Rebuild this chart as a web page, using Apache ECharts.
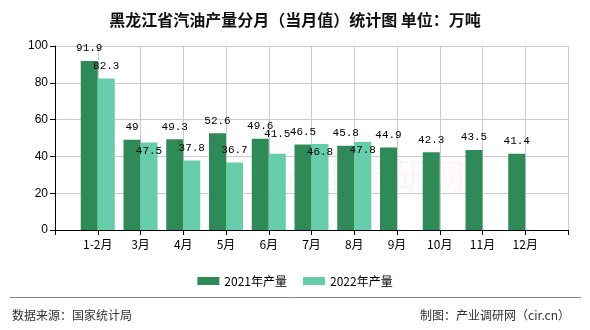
<!DOCTYPE html>
<html>
<head>
<meta charset="utf-8">
<script src="https://cdn.jsdelivr.net/npm/echarts@6/dist/echarts.min.js"></script>
<style>html,body{margin:0;padding:0;background:#fff;}#c{width:590px;height:330px;}</style>
</head>
<body>
<div id="c"></div>
<script>
var categories = ['1-2月','3月','4月','5月','6月','7月','8月','9月','10月','11月','12月'];
var values2021 = [91.9, 49, 49.3, 52.6, 49.6, 46.5, 45.8, 44.9, 42.3, 43.5, 41.4];
var values2022 = [82.3, 47.5, 37.8, 36.7, 41.5, 46.8, 47.8];
var yTicks = [0, 20, 40, 60, 80, 100];
// label vertical nudges (style only) for 2022 labels
var label2022Dy = [0, 21, 0, 0, -7, 21, 21];

var cats = [''].concat(categories).concat(['']);
function pad(arr, n) {
  var out = [null];
  for (var i = 0; i < n; i++) out.push(i < arr.length ? arr[i] : null);
  out.push(null);
  return out;
}
var d1 = pad(values2021, categories.length);
var d2raw = pad(values2022, categories.length);
var d2 = d2raw.map(function (v, i) {
  if (v === null) return null;
  return { value: v, label: { offset: [0, label2022Dy[i - 1] || 0] } };
});

var labelFont = { show: true, position: 'top', distance: 7, color: '#000', fontSize: 11, fontFamily: 'Liberation Mono' };
var chart = echarts.init(document.getElementById('c'), null, { renderer: 'canvas' });
chart.setOption({
  animation: false,
  backgroundColor: '#fff',
  title: {
    text: '黑龙江省汽油产量分月（当月值）统计图 单位：万吨',
    left: 'center', top: 7,
    textStyle: { fontSize: 16, fontWeight: 'bold', color: '#111', fontFamily: 'Noto Sans CJK SC' }
  },
  legend: {
    data: ['2021年产量', '2022年产量'],
    left: 'center', top: 270,
    icon: 'rect', itemWidth: 22, itemHeight: 8, itemGap: 16,
    textStyle: { fontSize: 12, color: '#000', fontFamily: 'Noto Sans CJK SC' }
  },
  grid: { left: 55, right: 22, top: 46, bottom: 100, containLabel: false },
  xAxis: {
    type: 'category', data: cats, boundaryGap: false,
    axisLine: { lineStyle: { color: '#000', width: 1 } },
    axisTick: { show: true, length: 5, interval: 0, lineStyle: { color: '#000' } },
    axisLabel: { interval: 0, margin: 8, color: '#000', fontSize: 12, fontFamily: 'Noto Sans CJK SC' },
    splitLine: { show: true, interval: 0, lineStyle: { color: '#ccc', width: 1 } }
  },
  yAxis: {
    type: 'value', min: yTicks[0], max: yTicks[yTicks.length - 1], interval: 20,
    axisLine: { show: true, lineStyle: { color: '#000', width: 1 } },
    axisTick: { show: true, length: 5, lineStyle: { color: '#000' } },
    axisLabel: { margin: 7, color: '#000', fontSize: 12, fontFamily: 'Liberation Sans' },
    splitLine: { show: true, lineStyle: { color: '#ccc', width: 1 } }
  },
  series: [
    { name: '2021年产量', type: 'bar', data: d1, barWidth: 17, barGap: '0%',
      itemStyle: { color: '#2E8B57' }, label: labelFont },
    { name: '2022年产量', type: 'bar', data: d2, barWidth: 17, barGap: '0%',
      itemStyle: { color: '#66CDAA' }, label: labelFont }
  ],
  graphic: [
    { type: 'text', left: 285, top: 158, silent: true, z: -1,
      style: { text: '产业调研网', fontSize: 36, fill: 'rgba(200,60,60,0.05)', fontFamily: 'Noto Sans CJK SC' } },
    { type: 'line', silent: true,
      shape: { x1: 10, y1: 297.5, x2: 581, y2: 297.5 },
      style: { stroke: '#888', lineWidth: 1 } },
    { type: 'text', left: 12, top: 309,
      style: { text: '数据来源：国家统计局', fontSize: 12, fill: '#333', fontFamily: 'Noto Sans CJK SC' } },
    { type: 'text', right: 20, top: 309,
      style: { text: '制图：产业调研网（cir.cn）', fontSize: 12, fill: '#333', fontFamily: 'Noto Sans CJK SC' } }
  ]
});
</script>
</body>
</html>
